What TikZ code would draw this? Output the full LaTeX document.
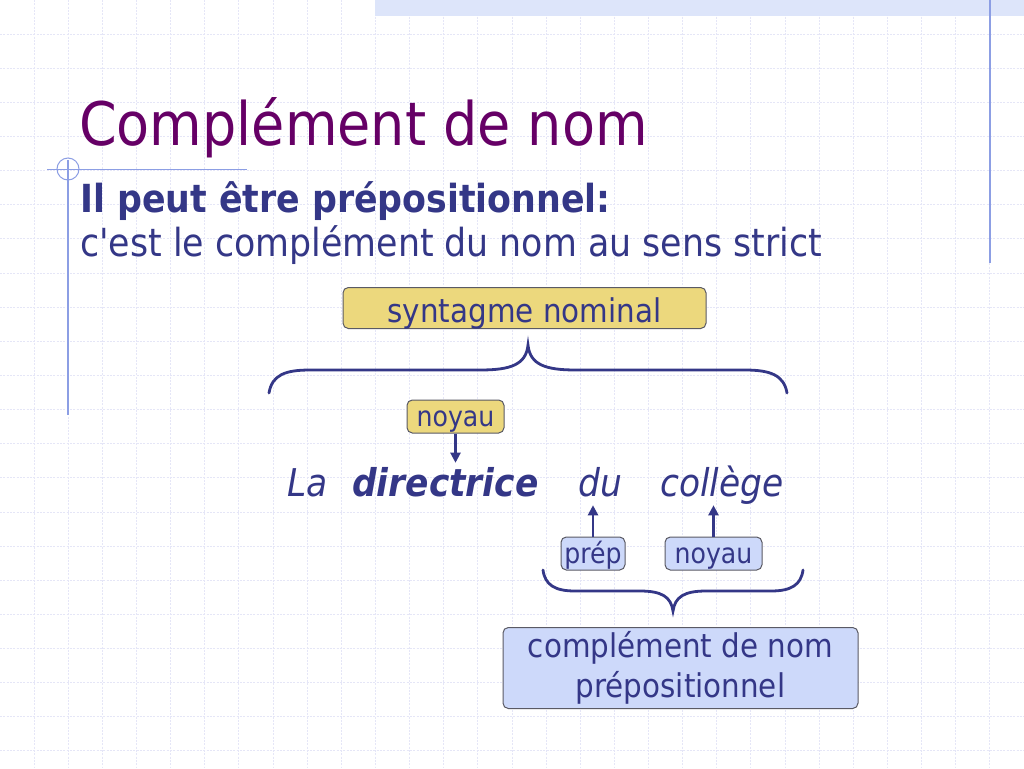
\documentclass[tikz,border=0pt]{standalone}
\usepackage{fontspec}
\setmainfont{DejaVu Sans Condensed}[Ligatures=TeXOff]
\usetikzlibrary{arrows.meta}
\definecolor{ttl}{HTML}{660066}
\definecolor{txt}{RGB}{52,55,135}
\definecolor{yl}{RGB}{236,216,125}
\definecolor{lb}{RGB}{205,217,250}
\definecolor{gr}{RGB}{229,230,247}
\definecolor{band}{RGB}{221,229,250}
\definecolor{rl}{RGB}{140,158,228}
\definecolor{bd}{RGB}{90,90,100}

\tikzset{
    gridline/.style={gr, line width=0.75pt, dash pattern=on 1.5pt off 1pt},
    tagbox/.style={draw=bd, line width=0.75pt, rounded corners=4pt, inner sep=0pt, text=txt},
    smalltag/.style={tagbox, minimum height=24.75pt, font=\fontsize{21}{24}\selectfont, text height=15.5pt, text depth=0pt},
    word/.style={anchor=base west, inner sep=0pt, text=txt, text height=24.75pt, text depth=6.75pt},
    brace/.style={txt, line width=2.1pt, line cap=round},
    arr/.style={txt, line width=1.6pt, -{Triangle[width=7.5pt,length=7.5pt]}}
}

\begin{document}
\begin{tikzpicture}[x=0.75pt, y=-0.75pt]
			\useasboundingbox (0,0) rectangle (1024,768);
			\fill[white] (0,0) rectangle (1024,768);

			% Background grid and frame lines
			\foreach \i in {1,...,29} \draw[gridline] ({\i*34.133},0) -- ({\i*34.133},768);
			\foreach \j in {1,...,22} \draw[gridline] (0,{\j*34.133}) -- (1024,{\j*34.133});
			\fill[band] (375,0) rectangle (1024,16);
			\draw[rl, line width=1pt] (990,0) -- (990,263);
			\draw[rl, line width=1pt] (68,160) -- (68,415);
			\draw[rl, line width=0.75pt] (47,169) -- (247,169);
			\draw[rl, line width=0.75pt] (68,169) circle[radius=8.25pt];

			% Title and heading
			\node[anchor=base west, inner sep=0pt, text=ttl, font=\fontsize{45}{54}\selectfont] (title) at (79,145) {Complément de nom};
			\node[anchor=base west, inner sep=0pt, text=txt, font=\fontsize{29}{36}\selectfont\bfseries] (sub) at (80,212) {Il peut être prépositionnel:};
			\node[anchor=base west, inner sep=0pt, text=txt, font=\fontsize{29}{36}\selectfont] (def) at (80,256) {c'est le complément du nom au sens strict};

			% Labels
			\node[tagbox, fill=yl, minimum width=272.25pt, minimum height=30.75pt, font=\fontsize{24.5}{30}\selectfont, text height=21.5pt, text depth=0pt] (sn) at (524.5,308) {syntagme nominal};
			\node[smalltag, fill=yl, minimum width=72.75pt] (noyA) at (455.5,416.5) {noyau};
			\node[smalltag, fill=lb, minimum width=48pt] (prep) at (593,553.5) {prép};
			\node[smalltag, fill=lb, minimum width=72.75pt] (noyB) at (713.5,553.5) {noyau};
			\node[tagbox, fill=lb, minimum width=266.25pt, minimum height=60.75pt, align=center, font=\fontsize{24.5}{30}\selectfont] (cdn) at (680.5,668) {complément de nom\\prépositionnel};

			% The phrase
			\node[word, font=\fontsize{28.7}{30}\selectfont\itshape] (la) at (287,496) {La};
			\node[word, font=\fontsize{28.7}{30}\selectfont\bfseries\itshape] (dir) at (352,496) {directrice};
			\node[word, font=\fontsize{28.7}{30}\selectfont\itshape] (du) at (578,496) {du};
			\node[word, font=\fontsize{28.7}{30}\selectfont\itshape] (col) at (660,496) {collège};

			% Arrows
			\draw[arr] (noyA.south) -- (noyA.south |- dir.north);
			\draw[arr] (prep.north) -- (prep.north |- du.south);
			\draw[arr] (noyB.north) -- (noyB.north |- col.south);

			% Braces
			\draw[brace] (269,393) .. controls (272,375) and (285,370) .. (310,370) -- (480,370)
			.. controls (510,370) and (526,365) .. (528,345)
			.. controls (530,365) and (546,370) .. (576,370) -- (745,370)
			.. controls (770,370) and (784,375) .. (787,393);
			\draw[brace] (543,570) .. controls (545,585) and (555,591) .. (575,591) -- (640,591)
			.. controls (662,591) and (671,597) .. (673,611)
			.. controls (675,597) and (684,591) .. (706,591) -- (771,591)
			.. controls (791,591) and (801,585) .. (803,570);
		\end{tikzpicture}
\end{document}
